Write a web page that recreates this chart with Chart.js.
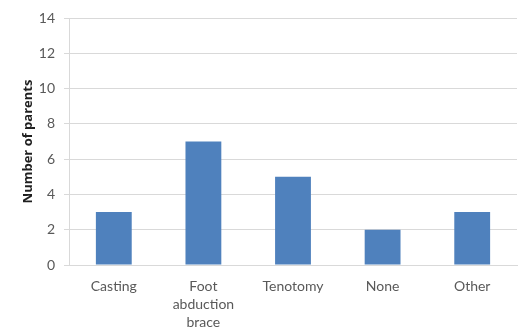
<!DOCTYPE html>
<html>
<head>
<meta charset="utf-8">
<script src="https://cdn.jsdelivr.net/npm/chart.js@4"></script>
<style>
  html, body { margin: 0; padding: 0; background: #ffffff; }
  #wrap { width: 519px; height: 328px; }
</style>
</head>
<body>
<div id="wrap"><canvas id="c" width="519" height="328"></canvas></div>
<script>
// Treatment categories (multi-line labels as arrays)
const categories = [
  'Casting',
  ['Foot', 'abduction', 'brace'],
  'Tenotomy',
  'None',
  'Other'
];
// Number of parents per treatment
const parentCounts = [3, 7, 5, 2, 3];
// Value axis range and tick step
const yMin = 0;
const yMax = 14;
const yStep = 2;

const FONT = 'Lato, "Open Sans", "Liberation Sans", sans-serif';
const TITLE_FONT = '"Open Sans", Lato, "Liberation Sans", sans-serif';
const GRID = '#d9d9d9';
const TEXT = '#595959';

new Chart(document.getElementById('c'), {
  type: 'bar',
  data: {
    labels: categories,
    datasets: [{
      label: 'Number of parents',
      data: parentCounts,
      backgroundColor: '#4f81bd',
      borderWidth: 0,
      barPercentage: 0.8,
      categoryPercentage: 0.5
    }]
  },
  options: {
    responsive: false,
    animation: false,
    layout: { padding: { top: 18, right: 2, left: 0, bottom: 0 } },
    plugins: {
      legend: { display: false },
      tooltip: { enabled: false }
    },
    scales: {
      x: {
        grid: { display: false, drawTicks: false },
        border: { display: true, color: GRID, width: 1 },
        ticks: {
          color: TEXT,
          padding: 12,
          maxRotation: 0,
          autoSkip: false,
          font: { family: FONT, size: 14, lineHeight: 1.3 }
        },
        afterFit: (s) => { s.height = 63; }
      },
      y: {
        min: yMin,
        max: yMax,
        grid: { color: GRID, lineWidth: 1, tickLength: 5, drawTicks: true },
        border: { display: true, color: GRID, width: 1 },
        ticks: {
          stepSize: yStep,
          color: TEXT,
          padding: 9,
          font: { family: FONT, size: 14 }
        },
        title: {
          display: true,
          text: 'Number of parents',
          color: '#1f1f1f',
          padding: { top: 20, bottom: 0 },
          font: { family: TITLE_FONT, size: 13, weight: 'bold', lineHeight: 1.2 }
        },
        afterFit: (s) => { s.width = 69; }
      }
    }
  }
});
</script>
</body>
</html>
